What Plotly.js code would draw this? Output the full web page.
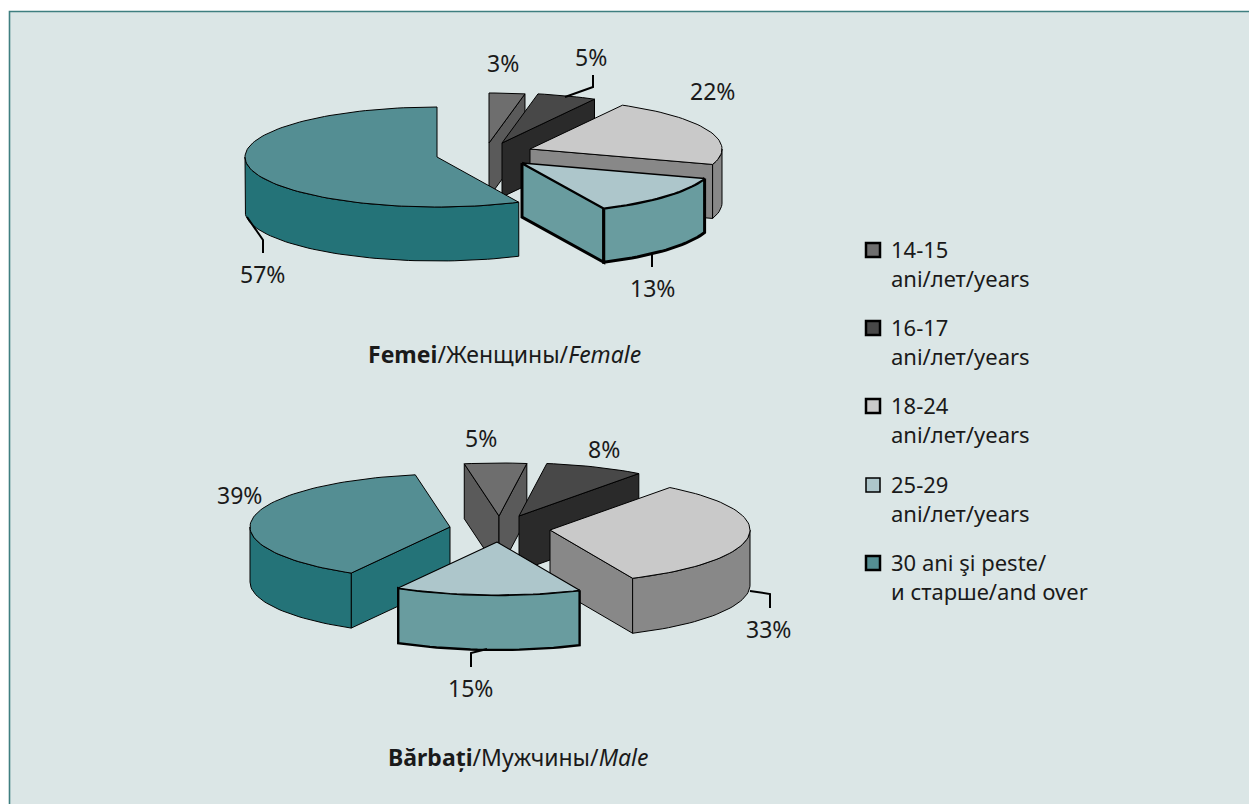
<!DOCTYPE html>
<html><head><meta charset="utf-8">
<script src="https://cdn.plot.ly/plotly-3.0.1.min.js"></script>
<style>html,body{margin:0;padding:0;background:#fff}#c{width:1249px;height:804px}</style>
</head><body><div id="c"></div>
<script>
// ---- data ----
const categories = ['14-15<br>ani/лет/years','16-17<br>ani/лет/years','18-24<br>ani/лет/years','25-29<br>ani/лет/years','30 ani şi peste/<br>и старше/and over'];
const femaleValues = [3,5,22,13,57];
const maleValues = [5,8,33,15,39];
const femaleTitle = '<b>Femei</b>/Женщины/<i>Female</i>';
const maleTitle = '<b>Bărbați</b>/Мужчины/<i>Male</i>';
// ---- styling and placement ----
const topColors = ['#6e6e6e','#484848','#c9c9c9','#adc6cb','#548e93'];
const sideColors = ['#5a5a5a','#2a2a2a','#888888','#699c9f','#247378'];
const femaleGeom = {rotation:0, rx:192, ry:50, h:54,
  apexX:[489,502,530,522,437], apexY:[143,143,149,163,157],
  sideWidth:[1,1,1,3,1], topWidth:[1,1,1,1.5,1],
  labelX:[503,591,712,652,262], labelY:[63,57,91,288,274],
  leaders:[[[593,593,565],[75,87,97]],[[652,652],[254,267]],[[247,263,263],[217,240,253]]],
  order:[0,1,2,3,4]};
const maleGeom = {rotation:-10, rx:200, ry:53, h:55,
  apexX:[499,519,550,497,450], apexY:[516,516,530,542,527],
  sideWidth:[1,1,1,2.4,1], topWidth:[1,1,1,1.2,1],
  labelX:[481,604,768,470,239], labelY:[438,449,629,688,495],
  leaders:[[[750,770,770],[591,594,608]],[[487,471,471],[649,653,667]]],
  order:[0,1,2,4,3]};
const legendSwatchX = 873, legendTextX = 891;
const legendSwatchY = [250,328,406,485,563], legendTextY = [263.5,341.5,419.5,498.5,576.5];
const rad = d => d*Math.PI/180;

function poly(xs, ys, fill, width){
  return {type:'scatter', mode:'lines', x:xs.concat(xs[0]), y:ys.concat(ys[0]), fill:'toself',
    fillcolor:fill, line:{color:'#000', width:width, shape:'linear'}, hoverinfo:'skip', showlegend:false};
}
function arc(g, ax, ay, a, b, dy){
  const n = Math.max(2, Math.ceil(Math.abs(b-a)/2)), xs=[], ys=[];
  for(let i=0;i<=n;i++){
    const t = rad(a+(b-a)*i/n);
    xs.push(ax+g.rx*Math.sin(t)); ys.push(ay-g.ry*Math.cos(t)+dy);
  }
  return [xs,ys];
}
function pieTraces(values, g){
  const total = values.reduce((s,v)=>s+v,0), out=[], starts=[];
  let acc = g.rotation;
  values.forEach(v=>{starts.push(acc); acc += v/total*360;});
  g.order.forEach(i=>{
    const a=starts[i], b=a+values[i]/total*360, ax=g.apexX[i], ay=g.apexY[i];
    const side = t=>{
      const p=arc(g,ax,ay,t,t,0), ex=p[0][0], ey=p[1][0];
      out.push(poly([ax,ex,ex,ax],[ay,ey,ey+g.h,ay+g.h],sideColors[i],g.sideWidth[i]));
    };
    if(Math.sin(rad(a))<-1e-6) side(a);
    if(Math.sin(rad(b))>1e-6) side(b);
    const w0=Math.max(a,90), w1=Math.min(b,270);
    if(w1>w0){
      const t1=arc(g,ax,ay,w0,w1,0), t2=arc(g,ax,ay,w1,w0,g.h);
      out.push(poly(t1[0].concat(t2[0]),t1[1].concat(t2[1]),sideColors[i],g.sideWidth[i]));
    }
    const t=arc(g,ax,ay,a,b,0);
    out.push(poly([ax].concat(t[0]),[ay].concat(t[1]),topColors[i],g.topWidth[i]));
  });
  return out;
}
function leaderTraces(g){
  return g.leaders.map(l=>({type:'scatter',mode:'lines',x:l[0],y:l[1],line:{color:'#000',width:2},hoverinfo:'skip',showlegend:false}));
}
const legendTraces = categories.map((c,i)=>({type:'scatter',mode:'markers',x:[legendSwatchX],y:[legendSwatchY[i]],name:c.replace('<br>',' '),showlegend:false,hoverinfo:'skip',
  marker:{symbol:'square',size:14,color:topColors[i],line:{color:'#000',width:i===3?1.5:2.5}}}));

const fs=23, lfs=22, txt='#1a1a1a', family='"Noto Sans", "Open Sans", sans-serif';
function labels(values,g){
  return values.map((v,i)=>({x:g.labelX[i],y:g.labelY[i],text:v+'%',showarrow:false,xanchor:'center',yanchor:'middle',font:{size:fs,color:txt,family}}));
}
const legendText = categories.map((c,i)=>({x:legendTextX,y:legendTextY[i],text:c,align:'left',showarrow:false,xanchor:'left',yanchor:'middle',xshift:-2,font:{size:lfs,color:txt,family}}));
const traces = pieTraces(femaleValues,femaleGeom).concat(leaderTraces(femaleGeom),pieTraces(maleValues,maleGeom),leaderTraces(maleGeom),legendTraces);
const layout = {
  width:1249,height:804,margin:{l:0,r:0,t:0,b:0},paper_bgcolor:'#ffffff',plot_bgcolor:'#ffffff',
  xaxis:{range:[0,1249],visible:false,fixedrange:true},
  yaxis:{range:[804,0],visible:false,fixedrange:true},
  shapes:[{type:'rect',layer:'below',xref:'x',yref:'y',x0:9.5,y0:11.5,x1:1270,y1:830,fillcolor:'#dbe6e6',line:{color:'#3f7f80',width:1.6}}],
  annotations:labels(femaleValues,femaleGeom).concat(labels(maleValues,maleGeom),[
    {x:504,y:354,text:femaleTitle,showarrow:false,xanchor:'center',yanchor:'middle',font:{size:fs,color:txt,family}},
    {x:518,y:757,text:maleTitle,showarrow:false,xanchor:'center',yanchor:'middle',font:{size:fs,color:txt,family}}],legendText),
  showlegend:false,
  hovermode:false
};
Plotly.newPlot('c',traces,layout,{staticPlot:true,displayModeBar:false});
</script></body></html>
